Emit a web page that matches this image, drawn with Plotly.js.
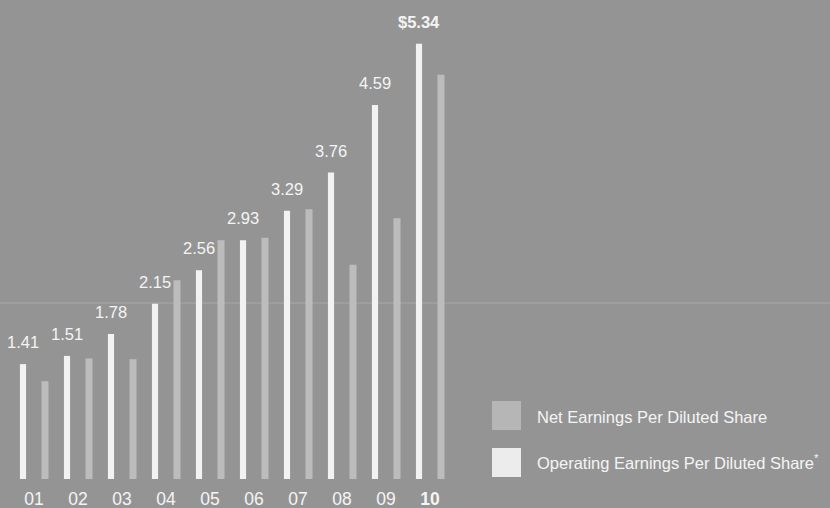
<!DOCTYPE html>
<html>
<head>
<meta charset="utf-8">
<script src="https://cdn.plot.ly/plotly-3.0.1.min.js"></script>
<style>
html,body{margin:0;padding:0;background:#949494;}
#chart{width:830px;height:508px;}
</style>
</head>
<body>
<div id="chart"></div>
<script>
// ---- data ----
const years = ["01","02","03","04","05","06","07","08","09","10"];
const yearLabels = ["01","02","03","04","05","06","07","08","09","<b>10</b>"];
const operatingEPS = [1.41, 1.51, 1.78, 2.15, 2.56, 2.93, 3.29, 3.76, 4.59, 5.34];
const netEPS = [1.20, 1.48, 1.47, 2.44, 2.93, 2.96, 3.31, 2.63, 3.20, 4.96];
const valueLabels = ["1.41","1.51","1.78","2.15","2.56","2.93","3.29","3.76","4.59","<b>$5.34</b>"];
const legendNames = ["Net Earnings Per Diluted Share", "Operating Earnings Per Diluted Share<sup>*</sup>"];

// ---- styling ----
const W = 830, H = 508;
const FONT = "Liberation Sans, Arial, sans-serif";
const BG = "#949494";
const WHITE_BAR = "#f2f2f2";
const GRAY_BAR = "#bcbcbc";
const TXT = "#f4f4f4";
const mL = 0, mR = 0, mT = 0, mB = 29;
const plotH = H - mT - mB;
const px2py = p => (H - mB - p) / plotH;
const px2px = p => (p - mL) / (W - mL - mR);

const barW = 0.14;
const traces = [
  {
    type: "bar", x: years, y: operatingEPS, name: legendNames[1],
    marker: {color: WHITE_BAR, line: {width: 0}},
    width: barW, offset: -0.25 - barW/2, showlegend: false, hoverinfo: "x+y"
  },
  {
    type: "bar", x: years, y: netEPS, name: legendNames[0],
    marker: {color: GRAY_BAR, line: {width: 0}},
    width: barW + 0.02, offset: 0.25 - (barW+0.02)/2, showlegend: false, hoverinfo: "x+y"
  }
];

const annotations = years.map((yr, i) => ({
  x: i - 0.25, y: operatingEPS[i], xref: "x", yref: "y",
  text: valueLabels[i], showarrow: false,
  xanchor: "center", yanchor: "bottom", yshift: 11,
  font: {family: FONT, size: 16.5, color: TXT}
}));

// legend (drawn manually for large swatches)
const legendSwatch = [
  {color: "#b6b6b6", top: 401, text: legendNames[0], ty: 417},
  {color: "#ececec", top: 448, text: legendNames[1], ty: 462}
];
const shapes = [
  {type: "line", xref: "paper", yref: "paper", x0: 0, x1: 1, y0: px2py(303), y1: px2py(303),
   line: {color: "rgba(255,255,255,0.2)", width: 1}, layer: "below"}
];
legendSwatch.forEach(s => {
  shapes.push({type: "rect", xref: "paper", yref: "paper",
    x0: px2px(492), x1: px2px(521), y0: px2py(s.top + 29), y1: px2py(s.top),
    fillcolor: s.color, line: {width: 0}});
  annotations.push({xref: "paper", yref: "paper", x: px2px(535), y: px2py(s.ty),
    xanchor: "left", yanchor: "middle", showarrow: false, text: s.text,
    font: {family: FONT, size: 16.5, color: TXT}});
});

const layout = {
  width: W, height: H,
  margin: {l: mL, r: mR, t: mT, b: mB, pad: 0},
  paper_bgcolor: BG, plot_bgcolor: BG,
  barmode: "overlay",
  showlegend: false,
  xaxis: {
    type: "category", range: [-34/44, (W - 34)/44],
    tickvals: years, ticktext: yearLabels,
    showgrid: false, zeroline: false, showline: false, ticks: "",
    ticklabelstandoff: 7,
    tickfont: {family: FONT, size: 17.5, color: TXT},
    fixedrange: true
  },
  yaxis: {
    range: [0, plotH / 81.5],
    showgrid: false, zeroline: false, showline: false,
    showticklabels: false, ticks: "", fixedrange: true
  },
  annotations: annotations,
  shapes: shapes
};

Plotly.newPlot("chart", traces, layout, {displayModeBar: false, staticPlot: true});
</script>
</body>
</html>
